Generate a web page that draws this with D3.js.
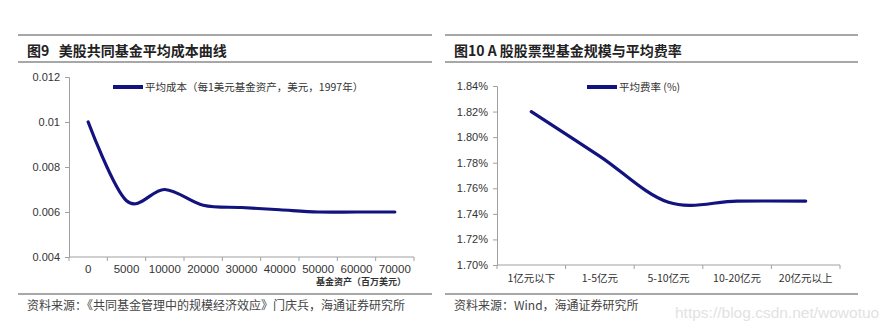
<!DOCTYPE html>
<html><head><meta charset="utf-8">
<script src="https://cdn.jsdelivr.net/npm/d3@7"></script>
<style>
body{margin:0;background:#fff;}
svg{display:block;}
.cjk{font-family:"Noto Sans CJK SC",sans-serif;}
.num{font-family:"Liberation Sans",Arial,sans-serif;}
</style></head>
<body>
<svg id="c" width="893" height="330"></svg>
<script>
// ---- Data: left chart (Fig 9) ----
const leftCats = ["0","5000","10000","20000","30000","40000","50000","60000","70000"];
const leftValues = [0.0100,0.0065,0.0070,0.0063,0.0062,0.0061,0.0060,0.0060,0.0060];
const leftTicks = [0.004,0.006,0.008,0.010,0.012];
const leftTickLabels = ["0.004","0.006","0.008","0.01","0.012"];
const leftTitle = "图9   美股共同基金平均成本曲线";
const leftLegend = "平均成本（每1美元基金资产，美元，1997年）";
const leftXTitle = "基金资产（百万美元）";
const leftSource = "资料来源：《共同基金管理中的规模经济效应》门庆兵，海通证券研究所";

// ---- Data: right chart (Fig 10) ----
const rightCats = ["1亿元以下","1-5亿元","5-10亿元","10-20亿元","20亿元以上"];
const rightValues = [1.820,1.785,1.749,1.750,1.750];
const rightTicks = [1.70,1.72,1.74,1.76,1.78,1.80,1.82,1.84];
const rightTitle = "图10 A 股股票型基金规模与平均费率";
const rightLegend = "平均费率 (%)";
const rightSource = "资料来源：Wind，海通证券研究所";
const watermark = "https://blog.csdn.net/wowotuo";

const svg = d3.select("#c");
const LINE = "#13137f";
const AXIS = "#a0a0a0";
const TXT = "#333";

function frame(x0, x1, title, source){
  svg.append("line").attr("x1",x0).attr("x2",x1).attr("y1",35).attr("y2",35).attr("stroke","#8a8a8a").attr("stroke-width",1.5);
  svg.append("line").attr("x1",x0).attr("x2",x1).attr("y1",62).attr("y2",62).attr("stroke","#8a8a8a").attr("stroke-width",1.5);
  svg.append("line").attr("x1",x0).attr("x2",x1).attr("y1",294).attr("y2",294).attr("stroke","#8a8a8a").attr("stroke-width",1.5);
  svg.append("text").attr("class","cjk").attr("x",x0+9).attr("y",56).attr("font-size",14).attr("font-weight","bold").attr("fill","#222").attr("xml:space","preserve").text(title);
  svg.append("text").attr("class","cjk").attr("x",x0+9).attr("y",310).attr("font-size",12).attr("fill","#444").text(source);
}

function chart(opts){
  const x = d3.scaleBand().domain(opts.cats).range([opts.x0, opts.x1]).paddingInner(0).paddingOuter(0);
  const y = d3.scaleLinear().domain(opts.domain).range([opts.y0, opts.y1]);
  const g = svg.append("g");
  // y axis
  const ya = d3.axisLeft(y).tickValues(opts.ticks).tickSize(4).tickFormat((d,i)=>opts.tickLabels[i]);
  const yg = g.append("g").attr("transform",`translate(${opts.x0},0)`).call(ya);
  yg.select(".domain").attr("stroke",AXIS);
  yg.selectAll(".tick line").attr("stroke",AXIS);
  yg.selectAll(".tick text").attr("class","num").attr("font-size",11).attr("fill",TXT).attr("dx",-2);
  // x axis
  const xg = g.append("g").attr("transform",`translate(0,${opts.y0})`);
  xg.append("line").attr("x1",opts.x0).attr("x2",opts.x1).attr("stroke",AXIS);
  const edges = opts.cats.map(c=>x(c)).concat([x.range()[1]]);
  xg.selectAll("line.t").data(edges).join("line").attr("class","t")
    .attr("x1",d=>d).attr("x2",d=>d).attr("y1",0).attr("y2",4).attr("stroke",AXIS);
  xg.selectAll("text.xl").data(opts.cats).join("text")
    .attr("class",opts.xClass+" xl").attr("x",d=>x(d)+x.bandwidth()/2).attr("y",opts.xLabelDy)
    .attr("text-anchor","middle").attr("font-size",opts.xFont).attr("fill",TXT).text(d=>d);
  // line
  const line = d3.line().x((d,i)=>x(opts.cats[i])+x.bandwidth()/2).y(d=>y(d)).curve(d3.curveCatmullRom.alpha(0));
  g.append("path").datum(opts.values).attr("d",line).attr("fill","none").attr("stroke",LINE).attr("stroke-width",3.2).attr("stroke-linecap","round");
  // legend
  svg.append("line").attr("x1",opts.legX).attr("x2",opts.legX+30).attr("y1",87).attr("y2",87).attr("stroke",LINE).attr("stroke-width",4);
  svg.append("text").attr("class","cjk").attr("x",opts.legX+32).attr("y",91).attr("font-size",10.5).attr("fill","#333").text(opts.legend);
  return {x,y};
}

frame(18, 432, leftTitle, leftSource);
frame(445, 858, rightTitle, rightSource);

chart({cats:leftCats, values:leftValues, domain:[0.004,0.012], ticks:leftTicks, tickLabels:leftTickLabels,
  x0:69, x1:414, y0:257, y1:77, xLabelDy:16, xFont:11.5, xClass:"num", legX:113, legend:leftLegend});
svg.append("text").attr("class","cjk").attr("x",406).attr("y",285).attr("text-anchor","end").attr("font-size",9).attr("font-weight","bold").attr("fill","#333").text(leftXTitle);

chart({cats:rightCats, values:rightValues, domain:[1.70,1.84], ticks:rightTicks, tickLabels:rightTicks.map(d=>d.toFixed(2)+"%"),
  x0:497, x1:840, y0:265, y1:86, xLabelDy:17, xFont:10.5, xClass:"cjk", legX:587, legend:rightLegend});

svg.append("text").attr("class","num").attr("x",675).attr("y",318).attr("font-size",15.5).attr("fill","#e2e2e2").text(watermark);
</script>
</body></html>
